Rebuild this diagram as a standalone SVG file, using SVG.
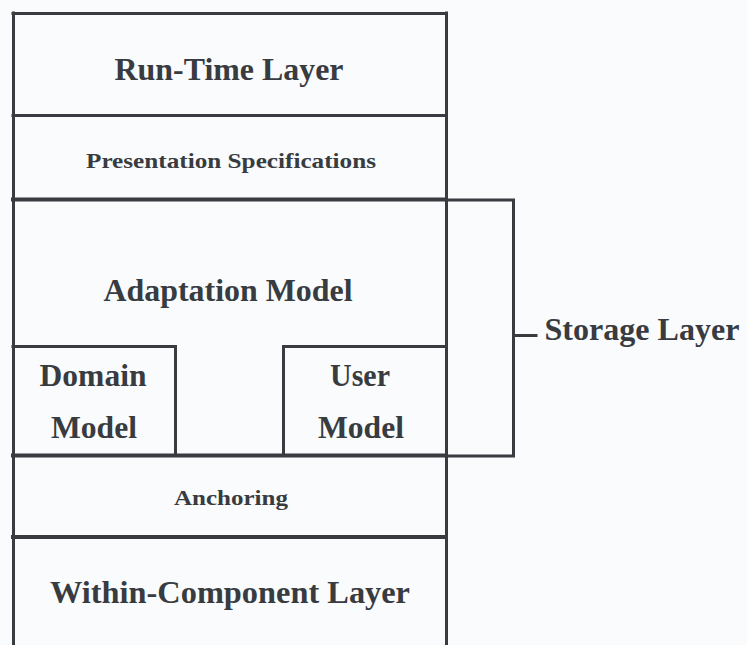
<svg xmlns="http://www.w3.org/2000/svg" width="747" height="645" viewBox="0 0 747 645">
<style>
.bg{fill:#f9fbfc}
.ln{stroke:#383b40;stroke-width:3;fill:none;stroke-linecap:square}
.thk{stroke-width:4}
.t{font-family:"Liberation Serif","Times New Roman",Times,serif;font-weight:700;fill:#383b40;text-anchor:middle}
.big{font-size:31.5px}
.small{font-size:22px}
</style>
<rect class="bg" x="0" y="0" width="747" height="645"/>
<g id="outer-frame">
<path class="ln" d="M13.5,13 V645 M446.5,13 V645"/>
</g>
<g id="run-time-layer">
<path class="ln" d="M13,13.5 H446"/>
<text class="t big" x="229" y="80" textLength="229" lengthAdjust="spacingAndGlyphs">Run-Time Layer</text>
</g>
<g id="presentation-specifications">
<path class="ln" d="M13,115.5 H446"/>
<text class="t small" x="231" y="168" textLength="290" lengthAdjust="spacingAndGlyphs">Presentation Specifications</text>
</g>
<g id="adaptation-model">
<path class="ln thk" d="M13,199.5 H446"/>
<text class="t big" x="228" y="301" textLength="249" lengthAdjust="spacingAndGlyphs">Adaptation Model</text>
</g>
<g id="domain-model">
<path class="ln" d="M13,346.5 H175.5 V455"/>
<text class="t big" x="93" y="386" textLength="107" lengthAdjust="spacingAndGlyphs">Domain</text>
<text class="t big" x="94" y="438" textLength="86" lengthAdjust="spacingAndGlyphs">Model</text>
</g>
<g id="user-model">
<path class="ln" d="M446,346.5 H283.5 V455"/>
<text class="t big" x="360" y="386" textLength="60" lengthAdjust="spacingAndGlyphs">User</text>
<text class="t big" x="361" y="438" textLength="86" lengthAdjust="spacingAndGlyphs">Model</text>
</g>
<g id="anchoring">
<path class="ln thk" d="M13,455.5 H446"/>
<text class="t small" x="231" y="505" textLength="114" lengthAdjust="spacingAndGlyphs">Anchoring</text>
</g>
<g id="within-component-layer">
<path class="ln thk" d="M13,537 H446"/>
<text class="t big" x="230" y="603" textLength="360" lengthAdjust="spacingAndGlyphs">Within-Component Layer</text>
</g>
<g id="connectors">
<path class="ln" d="M446,200 H513.5 V456 H446 M513.5,335.5 H536"/>
</g>
<g id="storage-layer">
<text class="t big" x="642" y="340" textLength="195" lengthAdjust="spacingAndGlyphs">Storage Layer</text>
</g>
</svg>
